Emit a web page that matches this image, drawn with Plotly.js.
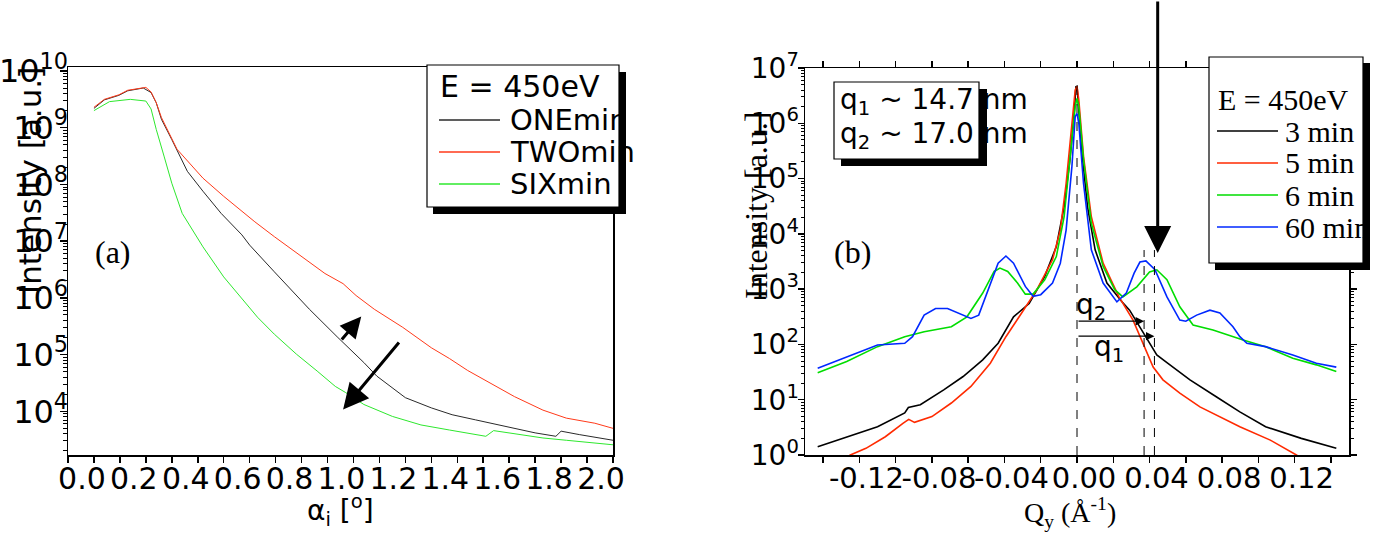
<!DOCTYPE html>
<html><head><meta charset="utf-8">
<script src="https://cdn.plot.ly/plotly-3.0.1.min.js"></script>
<style>html,body{margin:0;padding:0;background:#fff}#chart{width:1378px;height:533px}</style>
</head><body><div id="chart"></div>
<script>
// ---------- Panel (a): intensity vs incidence angle ----------
const alphaONE = [0, 0.04, 0.096, 0.13, 0.19, 0.22, 0.24, 0.26, 0.30, 0.36, 0.42, 0.49, 0.57, 0.60, 0.695, 0.78, 0.83, 0.94, 1.04, 1.09, 1.16, 1.20, 1.30, 1.38, 1.47, 1.59, 1.70, 1.78, 1.80, 1.87, 1.95, 2.0];
const intONE = [2.19e9, 3.09e9, 3.72e9, 4.47e9, 5.01e9, 4.17e9, 2.75e9, 1.41e9, 6.17e8, 1.70e8, 7.59e7, 3.09e7, 1.29e7, 8.51e6, 2.88e6, 1.12e6, 6.31e5, 2.00e5, 7.24e4, 4.17e4, 2.40e4, 1.74e4, 1.15e4, 8710, 7080, 5370, 4170, 3630, 4470, 3890, 3390, 3090];
const alphaTWO = [0, 0.04, 0.096, 0.13, 0.2, 0.22, 0.24, 0.26, 0.32, 0.42, 0.50, 0.57, 0.62, 0.695, 0.83, 0.89, 0.96, 1.01, 1.08, 1.19, 1.30, 1.37, 1.44, 1.54, 1.62, 1.73, 1.82, 1.93, 2.0];
const intTWO = [2.29e9, 3.16e9, 3.80e9, 4.57e9, 5.13e9, 4.27e9, 2.75e9, 1.51e9, 4.17e8, 1.29e8, 6.17e7, 3.31e7, 2.19e7, 1.20e7, 4.27e6, 2.69e6, 1.78e6, 1.10e6, 6.31e5, 3.02e5, 1.32e5, 8.51e4, 5.25e4, 2.88e4, 1.82e4, 1.05e4, 7590, 6170, 5010];
const alphaSIX = [0, 0.06, 0.14, 0.2, 0.22, 0.24, 0.27, 0.30, 0.34, 0.42, 0.50, 0.63, 0.695, 0.78, 0.86, 0.93, 0.97, 1.04, 1.15, 1.26, 1.37, 1.48, 1.51, 1.54, 1.63, 1.73, 1.82, 1.91, 2.0];
const intSIX = [2.00e9, 2.88e9, 3.16e9, 2.95e9, 2.14e9, 9.33e8, 3.16e8, 1.05e8, 3.09e7, 7.94e6, 2.34e6, 4.57e5, 2.29e5, 1.02e5, 5.13e4, 2.75e4, 2.14e4, 1.32e4, 8130, 5750, 4680, 3890, 3630, 4570, 3980, 3390, 3090, 2820, 2570];
const namesA = ['ONEmin', 'TWOmin', 'SIXmin'];
const alphaTickVals = [0.0, 0.2, 0.4, 0.6, 0.8, 1.0, 1.2, 1.4, 1.6, 1.8, 2.0];
const alphaTickText = ['0.0', '0.2', '0.4', '0.6', '0.8', '1.0', '1.2', '1.4', '1.6', '1.8', '2.0'];
const leftDecadeVals = [1e4, 1e5, 1e6, 1e7, 1e8, 1e9, 1e10];
const leftDecadeText = ['10<sup>4</sup>', '10<sup>5</sup>', '10<sup>6</sup>', '10<sup>7</sup>', '10<sup>8</sup>', '10<sup>9</sup>', '10<sup>10</sup>'];

// ---------- Panel (b): intensity vs Qy ----------
const Q3 = [-0.143, -0.127, -0.110, -0.095, -0.093, -0.0864, -0.0735, -0.0628, -0.052, -0.0435, -0.035, -0.0264, -0.0178, -0.0114, -0.0071, -0.0039, -0.0017, -0.0006, 0, 0.0006, 0.0026, 0.0058, 0.010, 0.0165, 0.0248, 0.029, 0.0347, 0.0402, 0.044, 0.0496, 0.0623, 0.077, 0.0898, 0.104, 0.1237, 0.143];
const I3 = [1.41, 2.14, 3.24, 5.75, 7.24, 8.13, 15.1, 26.3, 52.5, 105, 316, 550, 1700, 5890, 30900, 2.19e5, 1.32e6, 4.57e6, 4.68e6, 2.63e6, 3.31e5, 30900, 5130, 1290, 589, 417, 209, 107, 64.6, 46.8, 22.9, 11.2, 6.03, 3.24, 2.00, 1.32];
const Q5 = [-0.13, -0.125, -0.1164, -0.1057, -0.096, -0.0928, -0.0896, -0.080, -0.0693, -0.0585, -0.0478, -0.0392, -0.0307, -0.0221, -0.0135, -0.0092, -0.006, -0.0028, -0.001, 0, 0.001, 0.0036, 0.0079, 0.0144, 0.023, 0.0309, 0.0364, 0.042, 0.0474, 0.0567, 0.0678, 0.0788, 0.0898, 0.1066, 0.115, 0.121, 0.126];
const I5 = [0.79, 1.0, 1.32, 2.14, 3.72, 4.42, 3.89, 4.95, 8.71, 17.4, 45.7, 138, 363, 977, 3390, 11700, 81300, 8.71e5, 3.98e6, 4.68e6, 2.63e6, 2.51e5, 20400, 2950, 741, 275, 107, 38.9, 22.9, 13.2, 7.41, 4.90, 3.24, 1.86, 1.32, 1.0, 0.79];
const Q6 = [-0.143, -0.127, -0.110, -0.095, -0.0843, -0.0693, -0.0607, -0.052, -0.0457, -0.0425, -0.0382, -0.0328, -0.0285, -0.0242, -0.0178, -0.0114, -0.0071, -0.0039, -0.001, 0, 0.001, 0.0036, 0.0079, 0.0144, 0.0208, 0.0253, 0.033, 0.040, 0.044, 0.0496, 0.0567, 0.064, 0.075, 0.0916, 0.104, 0.119, 0.132, 0.143];
const I6 = [30.9, 49.0, 91.2, 138, 170, 209, 316, 851, 2090, 2400, 2090, 1290, 813, 813, 1480, 3890, 20400, 2.19e5, 2.0e6, 2.82e6, 2.0e6, 2.19e5, 15500, 2570, 977, 724, 1100, 2040, 2240, 1480, 479, 224, 182, 120, 91.2, 56.2, 42.7, 32.4];
const Q60 = [-0.143, -0.127, -0.110, -0.095, -0.0907, -0.0843, -0.078, -0.0714, -0.065, -0.0585, -0.0542, -0.0478, -0.0435, -0.0392, -0.035, -0.0285, -0.0242, -0.020, -0.0135, -0.0092, -0.006, -0.0028, -0.001, 0, 0.001, 0.0036, 0.0079, 0.0144, 0.022, 0.0272, 0.0315, 0.0347, 0.038, 0.043, 0.0496, 0.0567, 0.06, 0.066, 0.0733, 0.0788, 0.086, 0.0898, 0.0937, 0.104, 0.119, 0.132, 0.143];
const I60 = [37.2, 60.3, 97.7, 105, 138, 339, 447, 447, 363, 295, 339, 1290, 2950, 3980, 2950, 1120, 741, 794, 1290, 2950, 11700, 1.66e5, 1.32e6, 1.51e6, 1.0e6, 81300, 5130, 1290, 589, 851, 1950, 3090, 3240, 2240, 724, 275, 263, 339, 417, 372, 209, 138, 105, 91.2, 64.6, 45.7, 38.9];
const namesB = ['3 min', '5 min', '6 min', '60 min'];
const qTickVals = [-0.12, -0.08, -0.04, 0.00, 0.04, 0.08, 0.12];
const qTickText = ['-0.12', '-0.08', '-0.04', '0.00', '0.04', '0.08', '0.12'];
const rightDecadeVals = [1, 10, 100, 1e3, 1e4, 1e5, 1e6, 1e7];
const rightDecadeText = ['10<sup>0</sup>', '10<sup>1</sup>', '10<sup>2</sup>', '10<sup>3</sup>', '10<sup>4</sup>', '10<sup>5</sup>', '10<sup>6</sup>', '10<sup>7</sup>'];
const qMarks = [0.037, 0.0427];   // q2, q1 positions (Å^-1)

// ---------- helpers ----------
const W = 1378, H = 533;
const px = x => x / W, py = y => 1 - y / H;
const sans = 'DejaVu Sans, Verdana, sans-serif';
const serif = 'Liberation Serif, Times New Roman, serif';
function minorLog(d0, d1) { const v = []; for (let d = d0; d <= d1; d++) for (let k = 2; k <= 9; k++) v.push(k * Math.pow(10, d)); return v; }

const colA = ['#2a2a2a', '#ff3a1a', '#2ee82e'];
const colB = ['#000000', '#ff2a00', '#00dd00', '#0028ff'];

const traces = [
  {x: alphaONE, y: intONE, name: namesA[0], line: {color: colA[0], width: 1}},
  {x: alphaTWO, y: intTWO, name: namesA[1], line: {color: colA[1], width: 1}},
  {x: alphaSIX, y: intSIX, name: namesA[2], line: {color: colA[2], width: 1}},
  {x: Q3, y: I3, name: namesB[0], xaxis: 'x2', yaxis: 'y2', line: {color: colB[0], width: 1.6}},
  {x: Q5, y: I5, name: namesB[1], xaxis: 'x2', yaxis: 'y2', line: {color: colB[1], width: 1.6}},
  {x: Q6, y: I6, name: namesB[2], xaxis: 'x2', yaxis: 'y2', line: {color: colB[2], width: 1.6}},
  {x: Q60, y: I60, name: namesB[3], xaxis: 'x2', yaxis: 'y2', line: {color: colB[3], width: 1.6}}
].map(t => Object.assign({type: 'scatter', mode: 'lines', hoverinfo: 'skip'}, t));

const axCommon = {showline: true, linecolor: '#000', linewidth: 1.5, showgrid: false, zeroline: false,
  ticks: 'outside', tickcolor: '#000', tickwidth: 1.5, fixedrange: true, tickangle: 0};

const layout = {
  width: W, height: H, margin: {l: 0, r: 0, t: 0, b: 0},
  paper_bgcolor: '#fff', plot_bgcolor: '#fff', showlegend: false, hovermode: false,
  xaxis: Object.assign({}, axCommon, {
    domain: [px(68), px(613)], anchor: 'y', range: [-0.1, 2.0], mirror: true,
    tickmode: 'array', tickvals: alphaTickVals, ticktext: alphaTickText, ticklen: 6,
    ticklabelshift: -12, ticklabelstandoff: -10, tickfont: {family: sans, size: 30, color: '#000'},
    minor: {tickmode: 'linear', tick0: 0, dtick: 0.1, ticks: 'outside', ticklen: 6, tickwidth: 1.5, tickcolor: '#000', showgrid: false}
  }),
  yaxis: Object.assign({}, axCommon, {
    domain: [py(455), py(67)], anchor: 'x', type: 'log', range: [3.23, 10.07], mirror: true,
    tickmode: 'array', tickvals: leftDecadeVals, ticktext: leftDecadeText, ticklen: 7,
    ticklabelstandoff: -15, tickfont: {family: sans, size: 32, color: '#000'},
    minor: {tickmode: 'array', tickvals: minorLog(3, 9), ticks: 'outside', ticklen: 4, tickwidth: 1, tickcolor: '#000', showgrid: false}
  }),
  xaxis2: Object.assign({}, axCommon, {
    domain: [px(805), px(1349)], anchor: 'y2', range: [-0.15, 0.15], mirror: 'ticks',
    tickmode: 'array', tickvals: qTickVals, ticktext: qTickText, ticklen: 6,
    ticklabelshift: 7, ticklabelstandoff: -9, tickfont: {family: sans, size: 29, color: '#000'},
    minor: {tickmode: 'linear', tick0: 0, dtick: 0.02, ticks: 'outside', ticklen: 6, tickwidth: 1.5, tickcolor: '#000', showgrid: false}
  }),
  yaxis2: Object.assign({}, axCommon, {
    domain: [py(455), py(68)], anchor: 'x2', type: 'log', range: [0, 7], mirror: 'ticks',
    tickmode: 'array', tickvals: rightDecadeVals, ticktext: rightDecadeText, ticklen: 6,
    ticklabelstandoff: -7, tickfont: {family: sans, size: 28, color: '#000'},
    minor: {tickmode: 'array', tickvals: minorLog(0, 6), ticks: 'outside', ticklen: 3, tickwidth: 1, tickcolor: '#000', showgrid: false}
  }),
  shapes: [],
  annotations: []
};

const S = layout.shapes, A = layout.annotations;
function rectPx(x0, y0, x1, y1, fill, lw) {
  S.push({type: 'rect', xref: 'paper', yref: 'paper', x0: px(x0), x1: px(x1), y0: py(y1), y1: py(y0),
    fillcolor: fill, line: {color: '#000', width: lw}, layer: 'above'});
}
function linePx(x0, y0, x1, y1, color, w) {
  S.push({type: 'line', xref: 'paper', yref: 'paper', x0: px(x0), x1: px(x1), y0: py(y0), y1: py(y1),
    line: {color: color, width: w}, layer: 'above'});
}
function textPx(x, y, text, font, size, anchor, angle) {
  A.push({xref: 'paper', yref: 'paper', x: px(x), y: py(y), text: text, showarrow: false,
    xanchor: anchor || 'left', yanchor: 'middle', textangle: angle || 0,
    font: {family: font, size: size, color: '#000'}});
}

// dashed marker lines in panel (b)
S.push({type: 'line', xref: 'x2', yref: 'y2', x0: 0, x1: 0, y0: 1, y1: 4.7e6, line: {color: '#000', width: 1, dash: 'dash'}});
qMarks.forEach(q => S.push({type: 'line', xref: 'x2', yref: 'y2', x0: q, x1: q, y0: 1, y1: 5100, line: {color: '#000', width: 1, dash: 'dash'}}));

// legend (a)
rectPx(433, 72, 626, 214, '#000', 0);
rectPx(427, 65, 619, 207, '#fff', 1.2);
textPx(438, 87, 'E = 450eV', sans, 30);
[120, 152, 184].forEach((y, i) => { linePx(439, y, 500, y, colA[i], 1.5); textPx(508, y, namesA[i], sans, 29); });

// legend (b)
rectPx(1215, 63, 1370, 270, '#000', 0);
rectPx(1209, 57, 1363, 263, '#fff', 1.2);
textPx(1216, 100, 'E = 450eV', serif, 30);
[131, 163, 195, 227].forEach((y, i) => { linePx(1217, y, 1278, y, colB[i], 1.5); textPx(1283, y, namesB[i], serif, 30); });

// q box (b)
rectPx(841, 89, 987, 166, '#000', 0);
rectPx(834, 82, 979, 159, '#fff', 1.2);
textPx(838, 101, 'q<sub>1</sub> ~ 14.7 nm', sans, 28);
textPx(838, 135, 'q<sub>2</sub> ~ 17.0 nm', sans, 28);

// panel labels
textPx(113, 252, '(a)', serif, 32, 'center');
textPx(852, 252, '(b)', serif, 32, 'center');

// axis titles
textPx(30, 181, 'Intensity [a.u.]', sans, 31, 'center', -90);
textPx(340, 511, 'α<sub>i</sub> [<sup>o</sup>]', sans, 28, 'center');
textPx(756, 205, 'Intensity [a.u.]', serif, 32, 'center', -90);
textPx(1070, 512, 'Q<sub>y</sub> (Å<sup>-1</sup>)', serif, 28, 'center');

// q labels
textPx(1091, 306, 'q<sub>2</sub>', sans, 28, 'center');
textPx(1109, 348, 'q<sub>1</sub>', sans, 28, 'center');

// arrows panel (a)
A.push({xref: 'x', yref: 'y', x: 1.03, y: 5.67, axref: 'x', ayref: 'y', ax: 0.95, ay: 5.24, text: '',
  showarrow: true, arrowhead: 2, arrowsize: 1.4, arrowwidth: 3, arrowcolor: '#000'});
A.push({xref: 'x', yref: 'y', x: 0.96, y: 4.03, axref: 'x', ayref: 'y', ax: 1.18, ay: 5.24, text: '',
  showarrow: true, arrowhead: 2, arrowsize: 1.7, arrowwidth: 3, arrowcolor: '#000'});
// arrows panel (b)
A.push({xref: 'x2', yref: 'y2', x: 0.0445, y: 3.655, ax: 0, ay: -253, text: '',
  showarrow: true, arrowhead: 2, arrowsize: 1.8, arrowwidth: 3, arrowcolor: '#000'});
A.push({xref: 'x2', yref: 'y2', x: qMarks[0], y: 2.42, axref: 'x2', ayref: 'y2', ax: 0, ay: 2.42, text: '',
  showarrow: true, arrowhead: 2, arrowsize: 1.3, arrowwidth: 1.3, arrowcolor: '#000'});
A.push({xref: 'x2', yref: 'y2', x: qMarks[1], y: 2.15, axref: 'x2', ayref: 'y2', ax: 0, ay: 2.15, text: '',
  showarrow: true, arrowhead: 2, arrowsize: 1.3, arrowwidth: 1.3, arrowcolor: '#000'});

Plotly.newPlot('chart', traces, layout, {staticPlot: true, displayModeBar: false});
</script>
</body></html>
